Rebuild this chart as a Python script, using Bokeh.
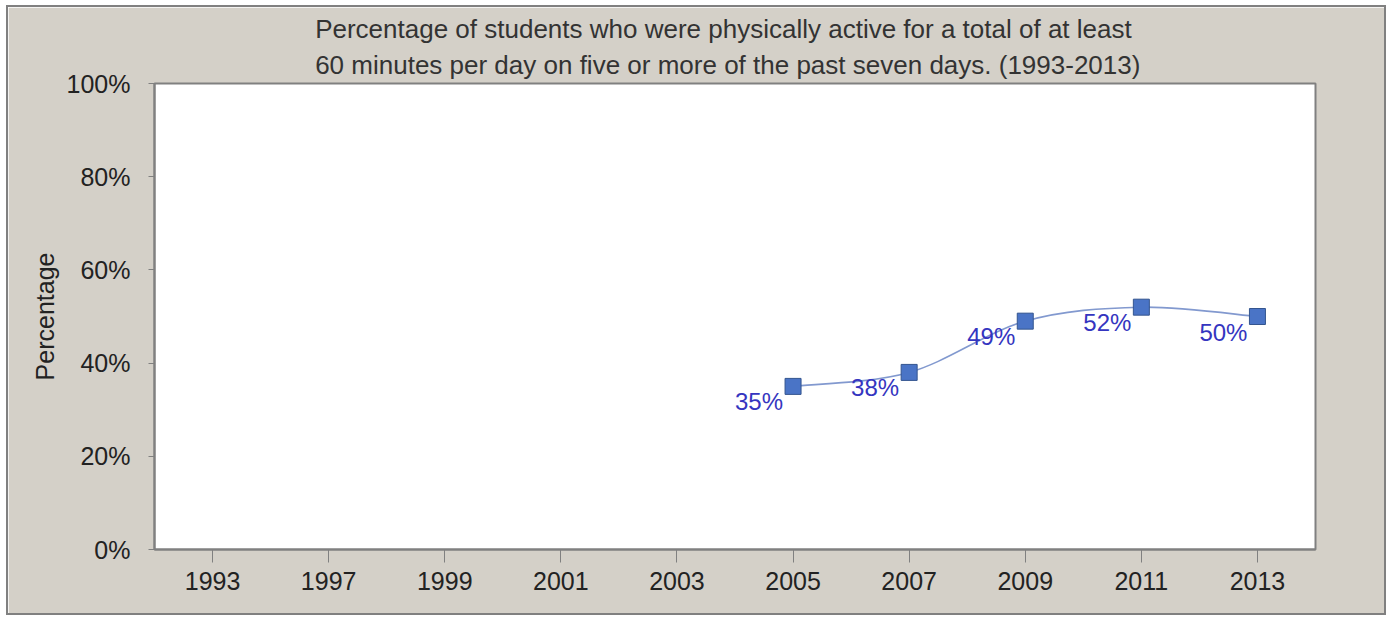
from bokeh.plotting import figure
from bokeh.models import ColumnDataSource, FixedTicker, Range1d, LabelSet
from bokeh.core.properties import value
from bokeh.embed import file_html
from bokeh.resources import INLINE

# ---- data ----
categories = ["1993", "1997", "1999", "2001", "2003", "2005", "2007", "2009", "2011", "2013"]
data_years = ["2005", "2007", "2009", "2011", "2013"]
pct = [35, 38, 49, 52, 50]
pct_labels = ["35%", "38%", "49%", "52%", "50%"]
y_ticks = [0, 20, 40, 60, 80, 100]
title_lines = ["Percentage of students who were physically active for a total of at least",
               "60 minutes per day on five or more of the past seven days.   (1993-2013)"]

FONT = "Liberation Sans"
BG = "#d4d0c8"

xs = [categories.index(y) for y in data_years]

p = figure(width=1380, height=610, output_backend="svg", toolbar_location=None,
           x_range=Range1d(-0.5, len(categories) - 0.5), y_range=Range1d(0, 100),
           title="\n".join(title_lines),
           min_border_left=146, min_border_right=73, min_border_top=76, min_border_bottom=68)
p.background_fill_color = "white"
p.border_fill_color = BG
p.outline_line_color = "#808080"
p.outline_line_width = 2
p.styles = {"border": "2px solid #808080", "box-sizing": "border-box",
            "margin-left": "6px", "margin-top": "5px"}

p.title.align = "center"
p.title.text_font = FONT
p.title.text_font_size = "26px"
p.title.text_font_style = "normal"
p.title.text_color = "#333333"
p.title.text_line_height = 1.2
p.title.standoff = 8

p.grid.visible = False

p.xaxis.ticker = FixedTicker(ticks=list(range(len(categories))))
p.xaxis.major_label_overrides = {i: c for i, c in enumerate(categories)}
p.xaxis.minor_tick_line_color = None
p.yaxis.minor_tick_line_color = None
p.yaxis.ticker = FixedTicker(ticks=y_ticks)
p.yaxis.major_label_overrides = {v: f"{v}%" for v in y_ticks}

for ax in (p.xaxis[0], p.yaxis[0]):
    ax.axis_line_color = "#808080"
    ax.axis_line_width = 2
    ax.major_tick_line_color = "#808080"
    ax.major_tick_in = 0
    ax.major_label_text_font = FONT
    ax.major_label_text_font_size = "25px"
    ax.major_label_text_color = "#222222"
p.xaxis.major_tick_out = 13
p.xaxis.major_label_standoff = 9
p.yaxis.major_tick_out = 6
p.yaxis.major_label_standoff = 18

p.yaxis.axis_label = "Percentage"
p.yaxis.axis_label_text_font = FONT
p.yaxis.axis_label_text_font_size = "25px"
p.yaxis.axis_label_text_font_style = "normal"
p.yaxis.axis_label_text_color = "#222222"
p.yaxis.axis_label_standoff = 5

# smooth curve through the data (Catmull-Rom converted to Bezier segments)
n = len(xs)
x0, y0, x1, y1, cx0, cy0, cx1, cy1 = [], [], [], [], [], [], [], []
for i in range(n - 1):
    pxm, pym = (xs[i - 1], pct[i - 1]) if i > 0 else (xs[i], pct[i])
    pxp, pyp = (xs[i + 2], pct[i + 2]) if i + 2 < n else (xs[i + 1], pct[i + 1])
    x0.append(xs[i]); y0.append(pct[i]); x1.append(xs[i + 1]); y1.append(pct[i + 1])
    cx0.append(xs[i] + (xs[i + 1] - pxm) / 6); cy0.append(pct[i] + (pct[i + 1] - pym) / 6)
    cx1.append(xs[i + 1] - (pxp - xs[i]) / 6); cy1.append(pct[i + 1] - (pyp - pct[i]) / 6)
p.bezier(x0=x0, y0=y0, x1=x1, y1=y1, cx0=cx0, cy0=cy0, cx1=cx1, cy1=cy1,
         line_color="#8299cf", line_width=1.6)

src = ColumnDataSource(dict(x=xs, y=pct, label=pct_labels))
p.scatter("x", "y", source=src, marker="square", size=16,
          fill_color="#4a74c6", line_color="#34558f", line_width=1)

labels = LabelSet(x="x", y="y", text="label", source=src, x_offset=-10, y_offset=-2,
                  text_align="right", text_baseline="top", text_font=value(FONT),
                  text_font_size="24px", text_color="#3535c0")
p.add_layout(labels)

open("out.html", "w").write(file_html(p, INLINE))
